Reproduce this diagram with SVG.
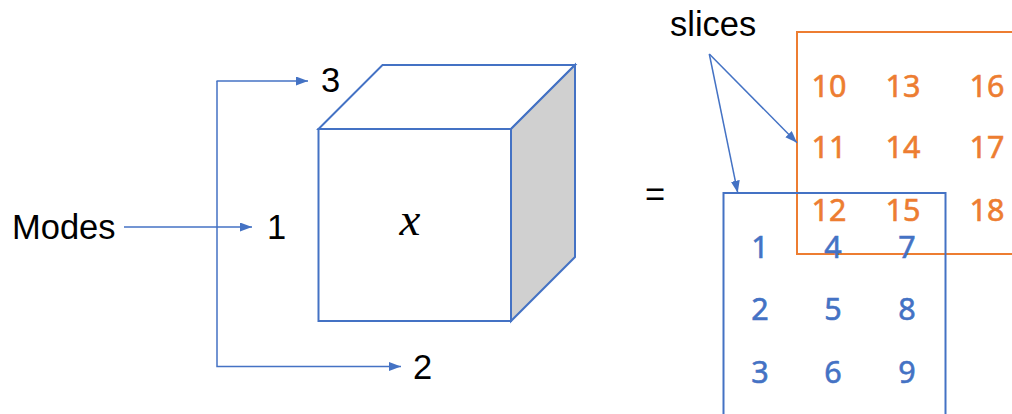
<svg xmlns="http://www.w3.org/2000/svg" width="1012" height="414" viewBox="0 0 1012 414">
<style>
.lbl{font-family:"Liberation Sans",Arial,sans-serif;font-size:34.5px;fill:#000}
.conn{fill:none;stroke:#4472C4;stroke-width:1.5}
.cube{stroke:#4472C4;stroke-width:2;stroke-linejoin:miter}
.num{font-family:"Noto Sans","Open Sans",sans-serif;font-size:30.5px;text-anchor:middle;stroke-width:0.6}
.or{fill:#ED7D31;stroke:#ED7D31}
.bl{fill:#4472C4;stroke:#4472C4}
</style>
<defs>
<marker id="ah" markerUnits="userSpaceOnUse" markerWidth="13" markerHeight="10" refX="12" refY="4.5" orient="auto">
<path d="M0,0 L12,4.5 L0,9 z" fill="#4472C4"/>
</marker>
</defs>
<rect width="1012" height="414" fill="#fff"/>
<g id="slice-front">
<rect x="797" y="32" width="230" height="222" fill="none" stroke="#ED7D31" stroke-width="2"/>
<text class="num or" x="829" y="97">10</text>
<text class="num or" x="903" y="97">13</text>
<text class="num or" x="987" y="97">16</text>
<text class="num or" x="829" y="158">11</text>
<text class="num or" x="903" y="158">14</text>
<text class="num or" x="987" y="158">17</text>
<text class="num or" x="829" y="221">12</text>
<text class="num or" x="903" y="221">15</text>
<text class="num or" x="987" y="221">18</text>
</g>
<g id="slice-back">
<rect x="723.5" y="193" width="222" height="240" fill="none" stroke="#4472C4" stroke-width="2"/>
<text class="num bl" x="760" y="258">1</text>
<text class="num bl" x="833" y="258">4</text>
<text class="num bl" x="907" y="258">7</text>
<text class="num bl" x="760" y="320">2</text>
<text class="num bl" x="833" y="320">5</text>
<text class="num bl" x="907" y="320">8</text>
<text class="num bl" x="760" y="383">3</text>
<text class="num bl" x="833" y="383">6</text>
<text class="num bl" x="907" y="383">9</text>
</g>
<g id="cube">
<polygon class="cube" points="318.5,129 382.5,65 575,65 511,129" fill="#fff"/>
<polygon class="cube" points="511,129 575,65 575,257 511,321" fill="#D0D0D0"/>
<rect class="cube" x="318.5" y="129" width="192.5" height="192" fill="#fff"/>
<text x="410" y="235" font-family="'Liberation Serif','DejaVu Serif',serif" font-style="italic" font-size="47" text-anchor="middle">x</text>
</g>
<g id="modes"><text class="lbl" x="12" y="239">Modes</text></g>
<g id="mode1"><text class="lbl" x="267" y="239">1</text></g>
<g id="mode2"><text class="lbl" x="413" y="379">2</text></g>
<g id="mode3"><text class="lbl" x="321" y="92">3</text></g>
<g id="equals"><text class="lbl" x="645" y="206">=</text></g>
<g id="slices"><text class="lbl" x="670" y="36">slices</text></g>
<g id="connectors">
<line class="conn" x1="124" y1="227" x2="252" y2="227" marker-end="url(#ah)"/>
<line class="conn" x1="216.5" y1="81" x2="308" y2="81" marker-end="url(#ah)"/>
<polyline class="conn" points="217,81 217,366.5 401,366.5" marker-end="url(#ah)"/>
<line class="conn" x1="709.3" y1="54" x2="797" y2="142.7" marker-end="url(#ah)"/>
<line class="conn" x1="709.3" y1="54" x2="737.7" y2="192.7" marker-end="url(#ah)"/>
</g>
</svg>
